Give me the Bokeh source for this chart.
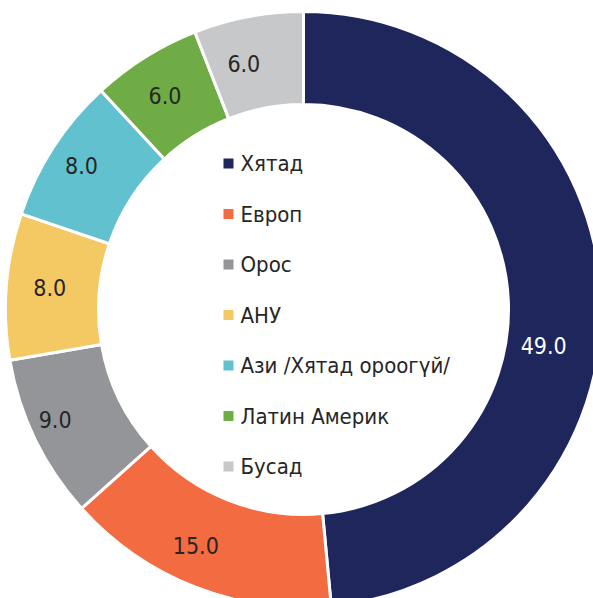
import numpy as np
from bokeh.plotting import figure
from bokeh.models import Range1d, ColumnDataSource
from bokeh.core.properties import value
from bokeh.embed import file_html
from bokeh.resources import INLINE

# ---- data ----
categories = ["Хятад", "Европ", "Орос", "АНУ", "Ази /Хятад ороогүй/", "Латин Америк", "Бусад"]
values = [49.0, 15.0, 9.0, 8.0, 8.0, 6.0, 6.0]
colors = ["#1F265C", "#F26B41", "#939598", "#F4C862", "#62C1CE", "#6FAC46", "#C7C8CA"]
label_colors = ["#FFFFFF", "#262626", "#262626", "#262626", "#262626", "#262626", "#262626"]

# ---- geometry (pixel units, centre of donut at 0,0) ----
FONT = "Liberation Sans Narrow, DejaVu Sans Condensed, sans-serif"
R_OUT, R_IN = 298, 205
W, H = 593, 598
CX, CY = 303, 309  # centre position inside the canvas

vals = np.array(values)
total = vals.sum()
cum = np.concatenate([[0], np.cumsum(vals)])
start = np.pi / 2 - cum[:-1] / total * 2 * np.pi
end = np.pi / 2 - cum[1:] / total * 2 * np.pi
mid = (start + end) / 2

p = figure(width=W, height=H, output_backend="svg", toolbar_location=None,
           x_range=Range1d(-CX, W - CX), y_range=Range1d(CY - H, CY),
           min_border=0, outline_line_color=None)
p.axis.visible = False
p.grid.visible = False
p.background_fill_color = "white"
p.border_fill_color = "white"

src = ColumnDataSource(dict(start=start, end=end, color=colors))
p.annular_wedge(x=0, y=0, inner_radius=R_IN, outer_radius=R_OUT,
                start_angle="start", end_angle="end", direction="clock",
                fill_color="color", line_color="white", line_width=3, source=src)

# data labels
r_lab = (R_IN + R_OUT) / 2
offsets = [(-11, -48), (-16, -2), (-22, 0), (-3, 2), (-11, 7), (-5, 1), (-13, -1)]
lx = r_lab * np.cos(mid) + np.array([o[0] for o in offsets])
ly = r_lab * np.sin(mid) + np.array([o[1] for o in offsets])
lsrc = ColumnDataSource(dict(x=lx, y=ly, t=[f"{v:.1f}" for v in values], c=label_colors))
p.text(x="x", y="y", text="t", text_color="c", text_font=value(FONT),
       text_font_size="23px", text_align="center", text_baseline="middle", source=lsrc)

# legend
leg_top = 309 - 163
step = 50.5
ly2 = leg_top - step * np.arange(len(categories))
sq_x = 228 - 303
p.rect(x=[sq_x] * len(categories), y=ly2, width=10, height=10,
       fill_color=colors, line_color=None)
p.text(x=[240 - 303] * len(categories), y=ly2, text=categories, text_color="#262626",
       text_font=value(FONT), text_font_size="22px", text_align="left",
       text_baseline="middle")

open("out.html", "w").write(file_html(p, INLINE))
